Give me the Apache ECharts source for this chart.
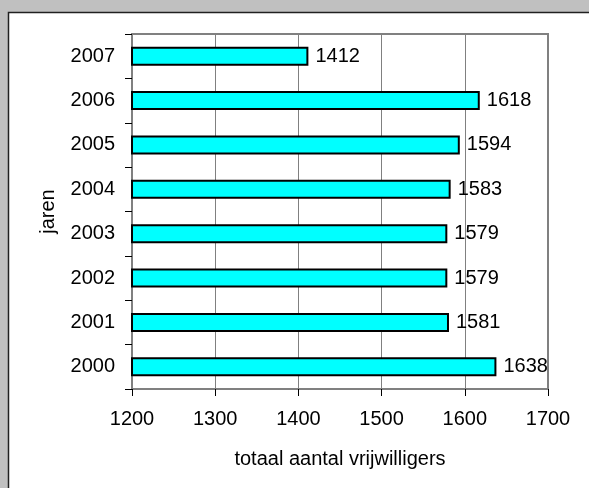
<!DOCTYPE html>
<html>
<head>
<meta charset="utf-8">
<script src="https://cdn.jsdelivr.net/npm/echarts@6/dist/echarts.min.js"></script>
<style>html,body{margin:0;padding:0;background:#c0c0c0;}#c{width:589px;height:488px;}</style>
</head>
<body>
<div id="c"></div>
<script>
var years = ['2000','2001','2002','2003','2004','2005','2006','2007'];
var volunteers = [1638, 1581, 1579, 1579, 1583, 1594, 1618, 1412];
var xTicks = {min: 1200, max: 1700, interval: 100};
var xName = 'totaal aantal vrijwilligers';
var yName = 'jaren';

var font = 'Arial, "Liberation Sans", sans-serif';
var chart = echarts.init(document.getElementById('c'));
chart.setOption({
  animation: false,
  backgroundColor: '#c0c0c0',
  graphic: [{
    type: 'rect', z: -10,
    shape: {x: 8.5, y: 12.5, width: 600, height: 500},
    style: {fill: '#ffffff', stroke: '#202020', lineWidth: 1.5}
  }],
  grid: {left: 132, top: 34, right: 41, bottom: 99, show: true, borderColor: '#808080', borderWidth: 2, backgroundColor: 'transparent'},
  xAxis: {
    type: 'value', min: xTicks.min, max: xTicks.max, interval: xTicks.interval,
    name: xName, nameLocation: 'middle', nameGap: 60,
    nameTextStyle: {fontFamily: font, fontSize: 20, color: '#000'},
    axisLine: {show: true, lineStyle: {color: '#808080', width: 2}},
    axisTick: {show: true, length: 7, lineStyle: {color: '#000', width: 1}},
    axisLabel: {fontFamily: font, fontSize: 20, color: '#000', margin: 20, formatter: function (v) { return String(v); }},
    splitLine: {show: true, lineStyle: {color: '#808080', width: 1}}
  },
  yAxis: {
    type: 'category', data: years,
    name: yName, nameLocation: 'middle', nameGap: 74, nameRotate: 90,
    nameTextStyle: {fontFamily: font, fontSize: 20, color: '#000'},
    axisLine: {show: true, lineStyle: {color: '#808080', width: 2}},
    axisTick: {show: true, length: 7, alignWithLabel: false, lineStyle: {color: '#000', width: 1}},
    axisLabel: {fontFamily: font, fontSize: 20, color: '#000', margin: 17},
    splitLine: {show: false}
  },
  series: [{
    type: 'bar', data: volunteers, barWidth: 19,
    itemStyle: {color: '#00ffff', borderColor: '#000', borderWidth: 2},
    label: {show: true, position: 'right', distance: 7, fontFamily: font, fontSize: 20, color: '#000', formatter: function (p) { return String(p.value); }}
  }]
});
</script>
</body>
</html>
